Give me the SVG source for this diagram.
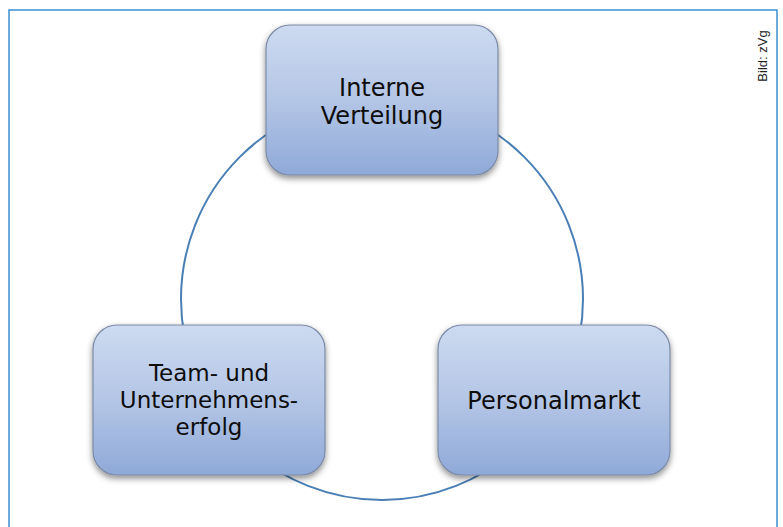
<svg xmlns="http://www.w3.org/2000/svg" width="783" height="527" viewBox="0 0 783 527">
  <defs>
    <linearGradient id="boxFill" x1="0" y1="0" x2="0" y2="1">
      <stop offset="0" stop-color="#cddaf0"/>
      <stop offset="0.5" stop-color="#b4c6e6"/>
      <stop offset="1" stop-color="#8fa9d8"/>
    </linearGradient>
    <filter id="shadow" x="-10%" y="-10%" width="120%" height="130%">
      <feDropShadow dx="0" dy="3" stdDeviation="3" flood-color="#000000" flood-opacity="0.45"/>
    </filter>
  </defs>
  <style>
    .frame { fill: none; stroke: #3d8fd0; stroke-width: 1.5; }
    .ring { fill: none; stroke: #4a7fb6; stroke-width: 2; }
    .box { fill: url(#boxFill); stroke: #7b8aa6; stroke-width: 1.2; filter: url(#shadow); }
    .label { font-family: "DejaVu Sans", Verdana, sans-serif; font-size: 24px; fill: #0d0d0d; text-anchor: middle; }
    .tight { font-size: 23px; }
    .credit { font-family: "Liberation Sans", Arial, sans-serif; font-size: 13px; fill: #222222; text-anchor: middle; }
  </style>

  <rect width="783" height="527" fill="#ffffff"/>
  <!-- outer frame, open at the bottom -->
  <path class="frame" d="M9,527 V10 H777 V527"/>

  <text class="credit" transform="translate(767,56) rotate(-90)">Bild: zVg</text>

  <g id="connectors">
    <circle class="ring" cx="382" cy="299" r="201"/>
  </g>

  <g id="node-interne-verteilung">
    <rect class="box" x="266" y="25" width="232" height="150" rx="24" ry="24"/>
    <text class="label" x="382" y="96">Interne</text>
    <text class="label" x="382" y="124">Verteilung</text>
  </g>

  <g id="node-team-erfolg">
    <rect class="box" x="93" y="325" width="232" height="150" rx="24" ry="24"/>
    <text class="label tight" x="209" y="381">Team- und</text>
    <text class="label tight" x="209" y="408">Unternehmens-</text>
    <text class="label tight" x="209" y="435">erfolg</text>
  </g>

  <g id="node-personalmarkt">
    <rect class="box" x="438" y="325" width="232" height="150" rx="24" ry="24"/>
    <text class="label" x="554" y="409">Personalmarkt</text>
  </g>
</svg>
